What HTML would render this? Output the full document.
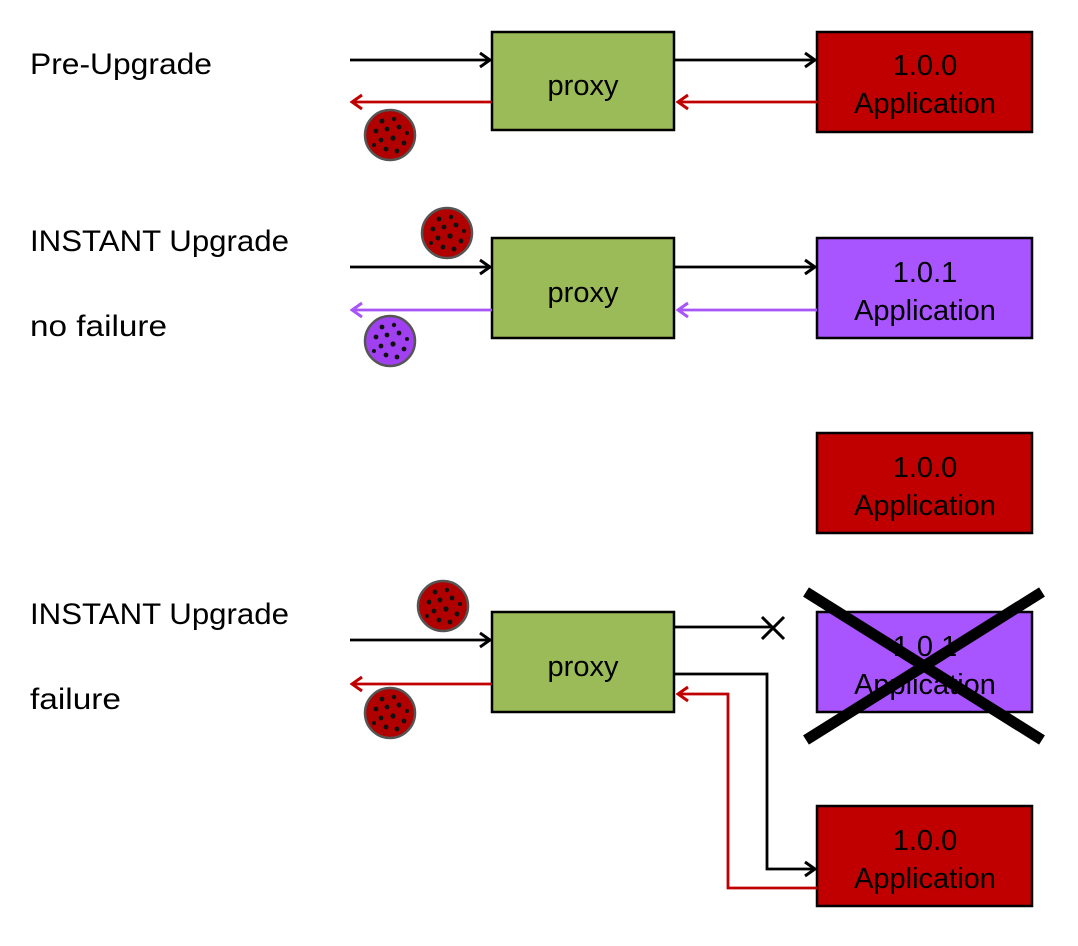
<!DOCTYPE html>
<html><head><style>html,body{margin:0;padding:0;background:#fff}svg{display:block}</style></head>
<body>
<svg width="1078" height="946" viewBox="0 0 1078 946" xmlns="http://www.w3.org/2000/svg" font-family="Liberation Sans, sans-serif">
<defs>
<marker id="ab" markerWidth="14" markerHeight="18" refX="12" refY="9" orient="auto" markerUnits="userSpaceOnUse"><path d="M2,2 L12,9 L2,16" fill="none" stroke="#000" stroke-width="3"/></marker>
<marker id="ar" markerWidth="14" markerHeight="18" refX="12" refY="9" orient="auto" markerUnits="userSpaceOnUse"><path d="M2,2 L12,9 L2,16" fill="none" stroke="#c00000" stroke-width="3"/></marker>
<marker id="ap" markerWidth="14" markerHeight="18" refX="12" refY="9" orient="auto" markerUnits="userSpaceOnUse"><path d="M2,2 L12,9 L2,16" fill="none" stroke="#a855f7" stroke-width="3"/></marker>
<g id="dots" fill="#111">
<circle cx="-8" cy="-14" r="2.4"/><circle cx="4" cy="-16" r="2.2"/><circle cx="-14" cy="-4" r="2.4"/><circle cx="-3" cy="-6" r="2.4"/><circle cx="9" cy="-8" r="2.4"/><circle cx="17" cy="-2" r="2"/><circle cx="-9" cy="5" r="2.4"/><circle cx="3" cy="3" r="2.6"/><circle cx="14" cy="8" r="2.4"/><circle cx="-16" cy="10" r="2"/><circle cx="-4" cy="14" r="2.4"/><circle cx="7" cy="16" r="2.4"/>
</g>
</defs>
<style>.t{font-size:30px;fill:#000}.b{font-size:29px;fill:#000;text-anchor:middle}</style>
<text x="30" y="74" class="t" textLength="182" lengthAdjust="spacingAndGlyphs">Pre-Upgrade</text>
<text x="30" y="251" class="t" textLength="259" lengthAdjust="spacingAndGlyphs">INSTANT Upgrade</text>
<text x="30" y="336" class="t" textLength="137" lengthAdjust="spacingAndGlyphs">no failure</text>
<text x="30" y="624" class="t" textLength="259" lengthAdjust="spacingAndGlyphs">INSTANT Upgrade</text>
<text x="30" y="709" class="t" textLength="91" lengthAdjust="spacingAndGlyphs">failure</text>

<g stroke="#000" stroke-width="2.5">
<rect x="492" y="32" width="182" height="98" fill="#9bbb59"/>
<rect x="817" y="32" width="215" height="100" fill="#c00000"/>
<rect x="492" y="238" width="182" height="100" fill="#9bbb59"/>
<rect x="817" y="238" width="215" height="100" fill="#a855ff"/>
<rect x="817" y="433" width="215" height="100" fill="#c00000"/>
<rect x="492" y="612" width="182" height="100" fill="#9bbb59"/>
<rect x="817" y="612" width="215" height="100" fill="#a855ff"/>
<rect x="817" y="806" width="215" height="100" fill="#c00000"/>
</g>
<text x="583" y="95" class="b">proxy</text>
<text x="925" y="75" class="b">1.0.0</text><text x="925" y="113" class="b">Application</text>
<text x="583" y="302" class="b">proxy</text>
<text x="925" y="282" class="b">1.0.1</text><text x="925" y="320" class="b">Application</text>
<text x="925" y="477" class="b">1.0.0</text><text x="925" y="515" class="b">Application</text>
<text x="583" y="676" class="b">proxy</text>
<text x="925" y="656" class="b">1.0.1</text><text x="925" y="694" class="b">Application</text>
<text x="925" y="850" class="b">1.0.0</text><text x="925" y="888" class="b">Application</text>

<g fill="none" stroke-width="2.8">
<line x1="350" y1="60" x2="490" y2="60" stroke="#000" marker-end="url(#ab)"/>
<line x1="674" y1="60" x2="815" y2="60" stroke="#000" marker-end="url(#ab)"/>
<line x1="492" y1="102" x2="352" y2="102" stroke="#c00000" marker-end="url(#ar)"/>
<line x1="817" y1="102" x2="678" y2="102" stroke="#c00000" marker-end="url(#ar)"/>

<line x1="350" y1="267" x2="490" y2="267" stroke="#000" marker-end="url(#ab)"/>
<line x1="674" y1="267" x2="815" y2="267" stroke="#000" marker-end="url(#ab)"/>
<line x1="492" y1="310" x2="352" y2="310" stroke="#a855f7" marker-end="url(#ap)"/>
<line x1="817" y1="310" x2="678" y2="310" stroke="#a855f7" marker-end="url(#ap)"/>

<line x1="350" y1="640" x2="490" y2="640" stroke="#000" marker-end="url(#ab)"/>
<line x1="492" y1="684" x2="352" y2="684" stroke="#c00000" marker-end="url(#ar)"/>
<line x1="674" y1="627" x2="772" y2="627" stroke="#000"/>
<path d="M762,617 L784,639 M784,617 L762,639" stroke="#000" stroke-width="3"/>
<polyline points="674,674 767,674 767,869 815,869" stroke="#000" marker-end="url(#ab)"/>
<polyline points="817,888 728,888 728,694 678,694" stroke="#c00000" marker-end="url(#ar)"/>
</g>
<path d="M806,592 L1042,740 M806,740 L1042,592" stroke="#000" stroke-width="11"/>

<g transform="translate(390,135)"><circle r="25" fill="#b00000" stroke="#555" stroke-width="2.5"/><use href="#dots"/></g>
<g transform="translate(447,233)"><circle r="25" fill="#b00000" stroke="#555" stroke-width="2.5"/><use href="#dots"/></g>
<g transform="translate(390,341)"><circle r="25" fill="#a040f0" stroke="#555" stroke-width="2.5"/><use href="#dots"/></g>
<g transform="translate(443,606)"><circle r="25" fill="#b00000" stroke="#555" stroke-width="2.5"/><use href="#dots"/></g>
<g transform="translate(390,713)"><circle r="25" fill="#b00000" stroke="#555" stroke-width="2.5"/><use href="#dots"/></g>
</svg>
</body></html>
